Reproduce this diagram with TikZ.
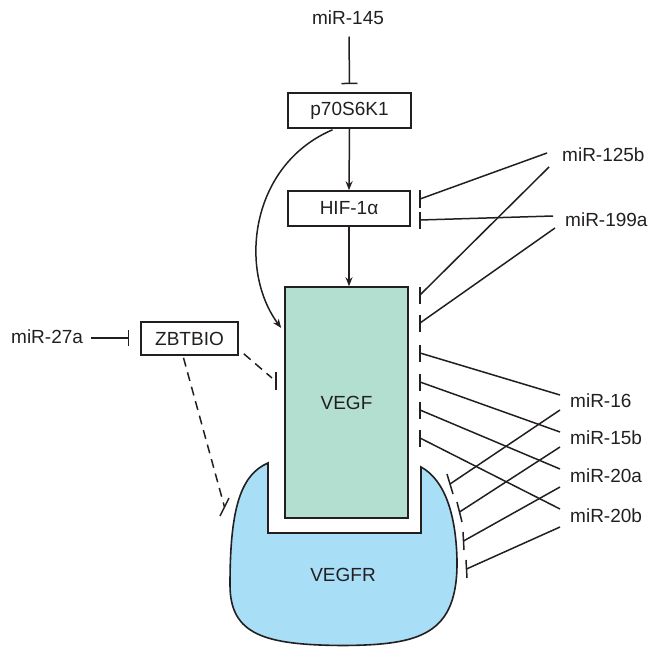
\documentclass[tikz,border=0pt]{standalone}
\usepackage{fontspec}
\setmainfont{Liberation Sans}
\usetikzlibrary{arrows.meta,calc}
\definecolor{ink}{HTML}{231F20}
\definecolor{vegfgreen}{HTML}{B3DFD0}
\definecolor{vegfrblue}{HTML}{A9DEF7}
\begin{document}
\begin{tikzpicture}[x=1pt,y=-1pt,
  every node/.style={font=\fontsize{19}{22}\selectfont, text=ink},
  gene/.style={draw=ink, line width=1.6pt, minimum width=123pt, minimum height=35pt, inner sep=0pt},
  link/.style={draw=ink, line width=1.5pt},
  act/.style={link, -{Stealth[length=9pt,width=7pt,inset=3pt]}},
  inh/.style={link, -{Bar[width=16pt]}},
  dashlink/.style={link, dash pattern=on 9pt off 6pt},
  mirna/.style={anchor=west, inner sep=0pt}]
\useasboundingbox (0,0) rectangle (650,647);

% receptor: U-shaped body around the ligand
\draw[link, line width=1.6pt, fill=vegfrblue]
  (268,463) -- (268,533) -- (421,533) -- (421,467)
  .. controls (445,480) and (456,515) .. (457,560)
  .. controls (458,635) and (420,645) .. (343,645.5)
  .. controls (265,645) and (230,635) .. (230,585)
  .. controls (230,510) and (240,475) .. (268,463) -- cycle;
\node (vegfr) at (343,575) {VEGFR};

% ligand and regulators
\node[gene, fill=vegfgreen, minimum width=123pt, minimum height=231pt] (vegf) at (346.5,402.5) {VEGF};
\node[gene] (p70) at (349.5,110.5) {p70S6K1};
\node[gene, minimum width=122pt] (hif) at (349,208.5) {HIF-1α};
\node[gene, minimum width=97pt, minimum height=33pt] (zbt) at (189.5,338.5) {ZBTBIO};

% microRNA labels
\node (m145) at (348,18) {miR-145};
\node[mirna] (m27) at (11,337) {miR-27a};
\node[mirna] (m125) at (562,155) {miR-125b};
\node[mirna] (m199) at (565,220) {miR-199a};
\node[mirna] (m16) at (570,401) {miR-16};
\node[mirna] (m15) at (570,438) {miR-15b};
\node[mirna] (m20a) at (570,476) {miR-20a};
\node[mirna] (m20b) at (570,516) {miR-20b};

% activation
\draw[act] (p70.south) -- (hif.north);
\draw[act] (hif.south) -- (hif.south |- vegf.north);
\draw[act] ($(p70.south)+(-17,1)$) .. controls (250,165) and (238,270) .. ($(vegf.west)+(-3,-74.5)$);

% inhibition from the top and the left
\draw[inh] ($(m145.south)+(1,8)$) -- ($(p70.north)+(0,-8)$);
\draw[inh] ($(m27.east)+(8,1)$) -- ($(zbt.west)+(-11,-0.5)$);

% dashed inhibition from ZBTBIO
\coordinate (zv) at (276,381);
\coordinate (zr) at (224.5,507);
\draw[dashlink] ($(zbt.south east)+(5,-2)$) -- ($(zv)+(-4,-3)$);
\draw[link] ($(zv)+(0,-9)$) -- ($(zv)+(0,9)$);
\draw[dashlink] ($(zbt.south)+(-6,2)$) -- (zr);
\draw[link] ($(zr)+(4.5,-9)$) -- ($(zr)+(-4.5,9)$);

% vertical inhibition bars on HIF-1a and VEGF
\foreach \n/\y in {h1/199, h2/220, v1/295, v2/323, v3/353, v4/382, v5/410, v6/438}{
  \coordinate (\n) at (420,\y);
  \draw[link] (420,\y-8.5) -- (420,\y+8.5);
}
% slanted inhibition bars along the receptor
\foreach \n/\x/\y/\dx/\dy in {r1/450/484/3/10, r2/459.5/512/2.5/10, r3/463.5/541/0.5/9, r4/466.5/569/0.5/9}{
  \coordinate (\n) at (\x,\y);
  \draw[link] (\x-\dx,\y-\dy) -- (\x+\dx,\y+\dy);
}

% lines from microRNA labels to their targets
\draw[link] ($(m125.west)+(-15,-2)$) -- (h1);
\draw[link] ($(m125.west)+(-13,12)$) -- (v1);
\draw[link] ($(m199.west)+(-12,-4)$) -- (h2);
\draw[link] ($(m199.west)+(-10,8)$) -- (v2);
\draw[link] ($(m16.west)+(-10,-6)$) -- (v3);
\draw[link] ($(m16.west)+(-10,9)$) -- (r1);
\draw[link] ($(m15.west)+(-10,-6)$) -- (v4);
\draw[link] ($(m15.west)+(-10,9)$) -- (r2);
\draw[link] ($(m20a.west)+(-10,-7)$) -- (v5);
\draw[link] ($(m20a.west)+(-10,11)$) -- (r3);
\draw[link] ($(m20b.west)+(-10,-7)$) -- (v6);
\draw[link] ($(m20b.west)+(-10,11)$) -- (r4);
\end{tikzpicture}
\end{document}
